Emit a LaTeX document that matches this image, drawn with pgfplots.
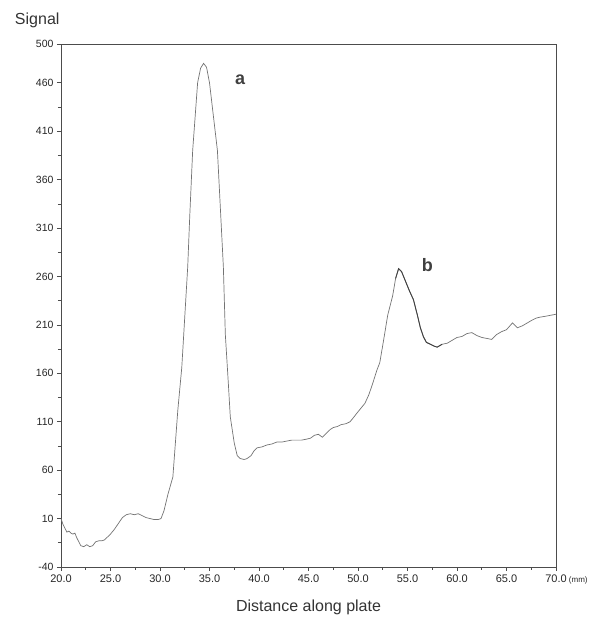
\documentclass[border=0pt]{standalone}
\usepackage{pgfplots}
\pgfplotsset{compat=1.18}
\usepackage{fontspec}
\setmainfont{Liberation Sans}
\begin{document}
\begin{tikzpicture}
\path[use as bounding box] (-61pt,-50pt) rectangle (544pt,567pt);
\begin{axis}[
  scale only axis, width=495pt, height=523pt,
  at={(0,0)}, anchor=south west,
  xmin=20, xmax=70, ymin=-40, ymax=500,
  axis line style={black!70, line width=0.7pt},
  tick style={black!70, line width=0.6pt},
  tick align=outside, xtick pos=left, ytick pos=left,
  major tick length=4pt, minor tick length=3pt,
  xtick={20,25,...,70},
  xticklabels={20.0,25.0,30.0,35.0,40.0,45.0,50.0,55.0,60.0,65.0,{70.0\rlap{\fontsize{8}{9}\selectfont\ (mm)}}},
  minor xtick={22.5,27.5,...,67.5},
  ytick={-40,10,60,110,160,210,260,310,360,410,460,500},
  minor ytick={-15,35,85,135,185,235,285,335,385,435},
  xticklabel style={font=\fontsize{11}{12}\selectfont, text=black!85},
  yticklabel style={font=\fontsize{10.5}{12}\selectfont, text=black!85},
  /pgf/number format/assume math mode=true,
  xlabel={Distance along plate},
  xlabel style={at={(axis description cs:0.5,0)}, anchor=center, yshift=-40pt, font=\fontsize{16}{18}\selectfont, text=black!80},
  clip=false,
]
\addplot[black!55, line width=0.7pt] coordinates {
(20.0,10) (20.2,4) (20.4,0) (20.6,-4) (20.8,-3) (21.0,-5) (21.2,-6) (21.4,-5)
(21.6,-10) (21.8,-14) (22.0,-18) (22.3,-19) (22.6,-17) (22.9,-19) (23.2,-18)
(23.5,-14) (23.8,-13) (24.1,-13) (24.4,-12) (24.7,-9) (25.0,-6) (25.4,-1)
(25.8,5) (26.2,11) (26.6,14) (27.0,15) (27.4,14) (27.8,15) (28.2,13) (28.6,11)
(29.0,10) (29.4,9) (29.8,9) (30.1,10) (30.4,18) (30.8,35) (31.3,53) (31.8,122)
(32.2,166) (32.5,218) (32.8,270) (33.0,321) (33.3,390) (33.8,460) (34.1,475)
(34.4,480) (34.7,476) (35.0,460) (35.4,425) (35.8,390) (36.1,330) (36.4,270)
(36.6,200) (36.9,150) (37.1,115) (37.5,88) (37.8,75) (38.1,72) (38.5,71)
(38.8,72) (39.2,75) (39.5,80) (39.8,83) (40.3,84) (40.8,86) (41.3,87) (41.8,89)
(42.3,89) (42.8,90) (43.3,91) (43.8,91) (44.3,91) (44.8,92) (45.2,93) (45.6,96)
(46.0,97) (46.4,94) (46.8,98) (47.2,102) (47.5,104) (47.9,105) (48.3,107)
(48.8,108) (49.2,110) (49.6,115) (49.9,119) (50.3,124) (50.7,129) (51.1,138)
(51.5,150) (51.9,163) (52.2,171) (52.6,195) (53.0,220) (53.5,240) (53.8,258)
(54.1,268) (54.4,265) (54.8,255) (55.2,245) (55.6,236) (56.0,220) (56.3,207)
(56.6,198) (56.9,192) (57.3,190) (57.7,188) (58.0,187) (58.5,190) (59.0,191)
(59.5,194) (60.0,197) (60.5,198) (61.0,201) (61.5,202) (62.0,199) (62.5,197)
(63.0,196) (63.5,195) (64.0,200) (64.5,203) (65.0,205) (65.6,212) (66.1,207)
(66.6,209) (67.1,212) (67.6,215) (68.0,217) (68.4,218) (69.0,219) (69.5,220)
(70.0,221)
};
\addplot[black!75, line width=0.9pt] coordinates {
(53.8,258) (54.1,268) (54.4,265) (54.8,255) (55.2,245) (55.6,236) (56.0,220)
(56.3,207) (56.6,198) (56.9,192) (57.3,190) (57.7,188) (58.0,187) (58.5,190)
};
\node[font=\bfseries\fontsize{18}{20}\selectfont, text=black!75] at (axis cs:38.1,463) {a};
\node[font=\bfseries\fontsize{18}{20}\selectfont, text=black!75] at (axis cs:57.0,272) {b};
\node[anchor=east, font=\fontsize{16}{18}\selectfont, text=black!80] at ([xshift=2pt,yshift=24pt]rel axis cs:0,1) {Signal};
\end{axis}
\end{tikzpicture}
\end{document}
